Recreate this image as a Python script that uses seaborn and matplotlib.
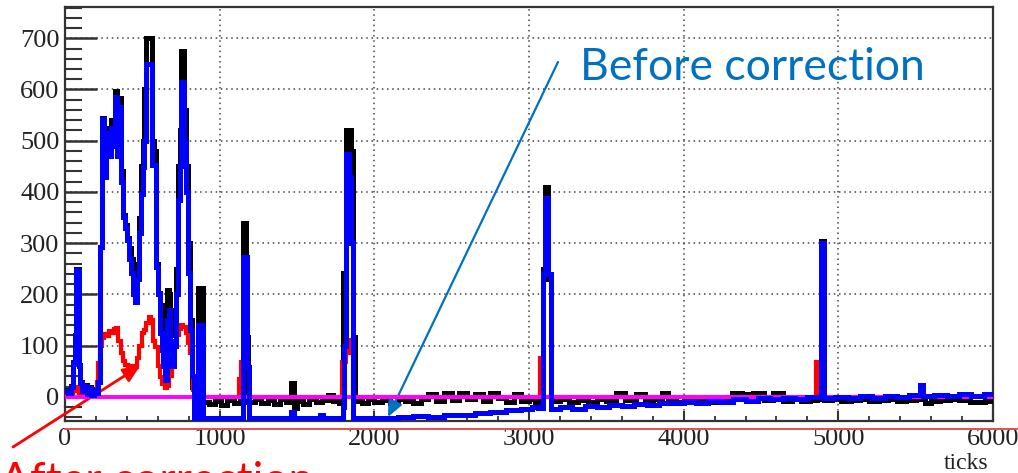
import matplotlib
matplotlib.use("Agg")
import matplotlib.pyplot as plt
from matplotlib.ticker import MultipleLocator
from matplotlib.lines import Line2D
import seaborn as sns
import pandas as pd

# ---------------- data ----------------
# raw waveform (black), step start positions in ticks and values
black_x = [0, 40, 50, 62, 72, 88, 98, 110, 125, 140, 155, 170, 185, 200, 215, 226, 237, 252, 262, 272,
           284, 296, 310, 322, 336, 350, 362, 374, 388, 400, 412, 425, 440, 452, 464, 476, 490, 502, 514,
           526, 540, 560, 575, 590, 602, 612, 624, 636, 646, 658, 670, 682, 694, 706, 718, 730, 742, 752,
           770, 785, 796, 810, 822, 832, 860, 893, 930, 970, 1010, 1050, 1090, 1130, 1150, 1172, 1185,
           1230, 1270, 1310, 1350, 1390, 1430, 1462, 1478, 1500, 1540, 1580, 1620, 1660, 1700, 1730,
           1770, 1795, 1819, 1850, 1862, 1878, 1920, 1960, 2000, 2050, 2100, 2150, 2200, 2250, 2300,
           2350, 2400, 2450, 2500, 2550, 2600, 2650, 2700, 2750, 2800, 2850, 2900, 2950, 3000, 3040,
           3070, 3088, 3105, 3125, 3140, 3200, 3260, 3320, 3380, 3440, 3500, 3560, 3620, 3690, 3750,
           3800, 3860, 3900, 3950, 4000, 4060, 4120, 4180, 4240, 4310, 4380, 4450, 4520, 4580, 4640,
           4700, 4760, 4820, 4860, 4885, 4905, 4960, 5020, 5080, 5140, 5200, 5260, 5320, 5380, 5440,
           5500, 5560, 5600, 5660, 5720, 5780, 5850, 5950, 6000]
black_y = [14, 22, 68, 120, 250, 62, 30, 14, 24, 8, 20, 6, 16, 10, 32, 292, 545, 440, 480, 525,
           490, 540, 500, 598, 490, 583, 440, 355, 335, 310, 290, 270, 215, 200, 260, 350, 450, 500, 600,
           700, 700, 500, 480, 260, 202, 180, 150, 120, 100, 208, 200, 170, 120, 150, 250, 450, 520, 676,
           559, 450, 300, 150, 20, -12, 212, -10, -14, -8, -15, -6, -12, -8, 339, 117, -10,
           -4, -12, -6, -14, -5, -10, 27, -22, -8, -14, -4, -10, -6, 3, -8,
           -12, 241, 520, 480, 117, -8, -12, -4, -10, -6, -12, -4, -8, -12, -5,
           6, -8, 8, -6, 8, -4, 6, -8, 8, -2, -10, 6, -8, -4, -10,
           -6, 250, 410, 230, -8, -4, -10, -6, -9, -4, -8, 8, -6, 6, -8,
           -4, 8, -6, -10, -4, -8, -6, -10, -4, 8, 6, 8, -6, 7, -8,
           -4, -8, -6, -4, 305, -6, -4, -8, -6, -5, -8, -6, -4, -8, -6,
           -5, -12, -8, -6, -4, -6, -10, -8, -8]

# after correction (red)
red_x = [0, 30, 50, 70, 90, 110, 150, 180, 205, 215, 228, 240, 255, 270, 285, 300, 315, 330, 345, 360,
         375, 390, 405, 420, 435, 450, 465, 480, 495, 510, 525, 540, 555, 570, 585, 600, 615, 630, 645,
         660, 675, 690, 705, 720, 735, 750, 765, 780, 795, 810, 825, 840, 855, 870, 1125, 1135, 1150,
         1790, 1815, 1835, 1860, 3070, 3088, 4855, 4880, 6000]
red_y = [5, 8, 12, 20, 8, 3, 5, 10, 30, 66, 100, 115, 122, 118, 128, 125, 132, 134, 110, 85,
         70, 62, 58, 55, 60, 58, 75, 100, 124, 130, 145, 156, 150, 110, 97, 60, 39, 25, 17,
         22, 40, 70, 100, 120, 132, 140, 136, 124, 105, 86, 14, 5, 39, 0, 35, 68, 0,
         68, 85, 111, 0, 76, 0, 68, 0, 0]

# before correction (blue); -42 = below the axis minimum
blue_x = [0, 20, 40, 50, 62, 72, 88, 98, 110, 125, 140, 155, 170, 185, 200, 215, 226, 237, 252, 262,
          272, 284, 296, 310, 322, 336, 350, 362, 374, 388, 400, 412, 425, 440, 452, 464, 476, 490, 502,
          514, 526, 540, 560, 575, 590, 602, 612, 624, 636, 646, 658, 670, 682, 694, 706, 718, 730, 742,
          752, 770, 785, 796, 806, 818, 832, 860, 893, 1150, 1175, 1188, 1460, 1480, 1650, 1668, 1795,
          1805, 1815, 1835, 1850, 1862, 2000, 2150, 2250, 2350, 2450, 2550, 2650, 2750, 2850, 2950,
          3020, 3060, 3088, 3105, 3125, 3140, 3200, 3280, 3360, 3440, 3520, 3600, 3680, 3760, 3840,
          3920, 4000, 4080, 4160, 4240, 4320, 4400, 4480, 4560, 4640, 4720, 4800, 4885, 4905, 4980,
          5060, 5140, 5220, 5300, 5380, 5460, 5530, 5545, 5620, 5700, 5780, 5860, 5940, 6000]
blue_y = [12, 8, 20, 68, 120, 248, 60, 28, 12, 22, 6, 18, 4, 14, 8, 30, 292, 543, 430, 470,
          515, 470, 525, 490, 585, 470, 565, 420, 351, 330, 306, 270, 241, 200, 185, 230, 320, 397, 448,
          500, 650, 650, 452, 452, 253, 200, 125, 92, 60, 33, 150, 170, 110, 60, 100, 200, 384, 450,
          614, 495, 400, 241, 130, 40, -42, 140, -42, 273, 59, -42, -29, -42, -36, -42, -20,
          100, 475, 430, 300, -42, -42, -40, -38, -39, -36, -35, -32, -30, -26, -23,
          -20, -22, 240, 388, 240, -24, -20, -23, -18, -20, -16, -18, -13, -15, -11,
          -12, -9, -12, -7, -9, -5, -7, -3, -5, -2, -4, -1, 300, -2, 0,
          -3, 1, -2, 2, -1, 3, 23, 1, 4, 1, 5, 2, 6, 6]

# pedestal line (magenta)
zero_x = [0, 6000]
zero_y = [0, 0]

x_ticks = [0, 1000, 2000, 3000, 4000, 5000, 6000]
y_ticks = [0, 100, 200, 300, 400, 500, 600, 700]

# ---------------- figure ----------------
sns.set_style("white")
plt.rcParams["font.family"] = ["Liberation Serif", "DejaVu Serif"]

W, H, DPI = 1018, 473, 100
fig = plt.figure(figsize=(W / DPI, H / DPI), dpi=DPI)
ax = fig.add_axes([65 / W, 1 - 421 / H, (993 - 65) / W, (421 - 7) / H])

def steps(x, y, color, lw, z):
    df = pd.DataFrame({"x": x, "y": y})
    sns.lineplot(data=df, x="x", y="y", ax=ax, color=color, lw=lw, sort=False,
                 estimator=None, drawstyle="steps-post", zorder=z, solid_joinstyle="miter")

steps(black_x, black_y, "black", 3.6, 3)
steps(red_x, red_y, "#ff0000", 3.0, 4)
sns.lineplot(x=zero_x, y=zero_y, ax=ax, color="#ff00ff", lw=2.8, zorder=5)
steps(blue_x, blue_y, "#0000ff", 3.6, 6)

ax.set_xlim(0, 6000)
ax.set_ylim(-47, 761)
ax.set_xlabel("")
ax.set_ylabel("")
ax.set_xticks(x_ticks)
ax.set_yticks(y_ticks)
ax.xaxis.set_minor_locator(MultipleLocator(200))
ax.yaxis.set_minor_locator(MultipleLocator(20))

ax.grid(True, which="major", color="#444444", lw=1.1, linestyle=(0, (1, 2.4)), zorder=1)
ax.set_axisbelow(True)

ax.tick_params(axis="y", which="major", direction="in", length=23, width=1.8, color="#333333",
               labelsize=19, pad=4, left=True)
ax.tick_params(axis="y", which="minor", direction="in", length=12, width=1.5, color="#333333", left=True)
ax.tick_params(axis="x", which="major", direction="in", length=7, width=1.5, color="#333333",
               labelsize=19, pad=5, bottom=True)
ax.tick_params(axis="x", which="minor", direction="in", length=3.6, width=1.3, color="#333333", bottom=True)
for lab in ax.get_xticklabels() + ax.get_yticklabels():
    lab.set_color("#222222")

for s in ax.spines.values():
    s.set_color("#333333")
    s.set_linewidth(1.6)
    s.set_visible(True)

# slide decorations
fig.add_artist(Line2D([65 / W, 1.0], [1 - 429 / H, 1 - 429 / H], transform=fig.transFigure,
                      color="#e05050", lw=1.4))
fig.text(988 / W, 1 - 463 / H, "ticks", ha="right", va="center", fontsize=17, color="#222222")

fig.text(580 / W, 1 - 68 / H, "Before correction", ha="left", va="center",
         fontsize=32, color="#0070C0", family=["Lato", "DejaVu Sans"])
ax.annotate("", xy=(388, H - 417), xycoords="figure pixels", xytext=(558, H - 62),
            textcoords="figure pixels",
            arrowprops=dict(arrowstyle="-|>,head_length=1.0,head_width=0.45", color="#0070C0", lw=1.6,
                            shrinkA=0, shrinkB=0), annotation_clip=False)

ax.annotate("", xy=(140, H - 366), xycoords="figure pixels", xytext=(13, H - 447),
            textcoords="figure pixels",
            arrowprops=dict(arrowstyle="-|>,head_length=1.0,head_width=0.45", color="#ff0000", lw=2,
                            shrinkA=0, shrinkB=0), annotation_clip=False)
# red caption: only its top edge shows at the bottom of the slide crop
fig.text(0 / W, 1 - 494 / H, "After correction", ha="left", va="baseline",
         fontsize=32, color="#ff0000", family=["Lato", "DejaVu Sans"])

fig.savefig("out.png", dpi=DPI)
